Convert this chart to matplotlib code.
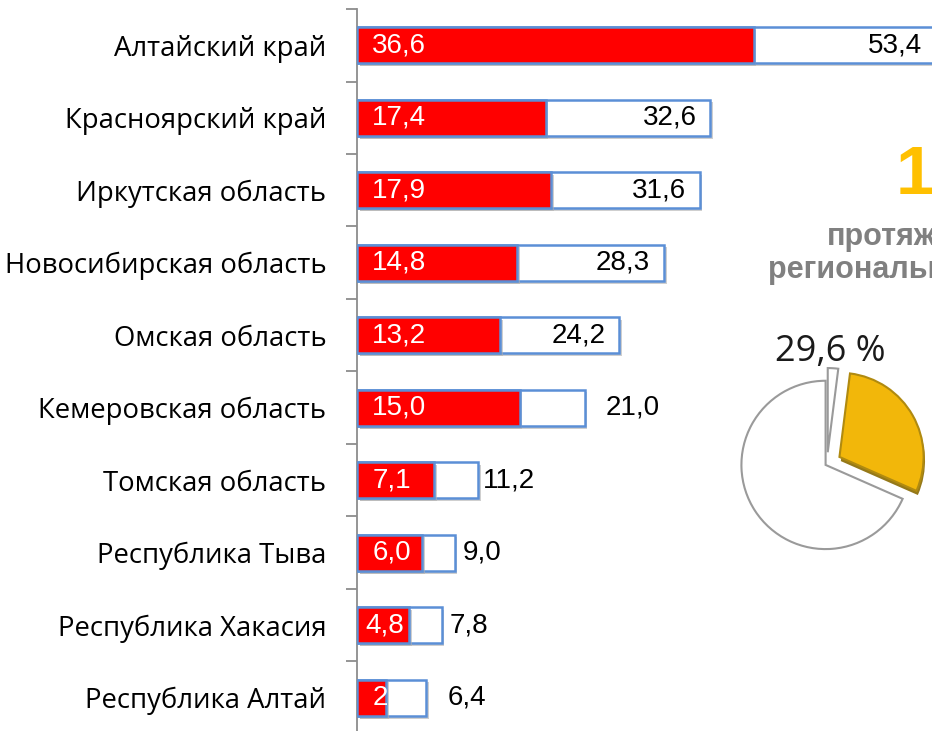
import matplotlib.pyplot as plt
import matplotlib.patheffects as pe

regions = ['Алтайский край', 'Красноярский край', 'Иркутская область',
           'Новосибирская область', 'Омская область', 'Кемеровская область',
           'Томская область', 'Республика Тыва', 'Республика Хакасия',
           'Республика Алтай']
part = [36.6, 17.4, 17.9, 14.8, 13.2, 15.0, 7.1, 6.0, 4.8, 2.7]
part_labels = ['36,6', '17,4', '17,9', '14,8', '13,2', '15,0', '7,1', '6,0', '4,8', '2']
total = [53.4, 32.6, 31.6, 28.3, 24.2, 21.0, 11.2, 9.0, 7.8, 6.4]
total_labels = ['53,4', '32,6', '31,6', '28,3', '24,2', '21,0', '11,2', '9,0', '7,8', '6,4']

pie_vals = [2.0, 29.6, 68.4]
pie_label = '29,6 %'

W, H = 932, 731
fig = plt.figure(figsize=(W / 100, H / 100), dpi=100)

def fx(x):
    return x / W

def fy(y):
    return 1 - y / H

blue = '#5B8FD6'
shadow = [pe.SimplePatchShadow(offset=(2, -2), shadow_rgbFace='#b0b0b0', alpha=0.6), pe.Normal()]

ax = fig.add_axes([fx(357), fy(734), 1 - fx(357), fy(9) - fy(734)])
y = list(range(len(regions)))
tb = ax.barh(y, total, height=0.5, color='white', edgecolor=blue, linewidth=1.8, zorder=2)
rb = ax.barh(y, part, height=0.5, color='#FF0000', edgecolor=blue, linewidth=1.8, zorder=3)
for b in list(tb) + list(rb):
    b.set_path_effects(shadow)

ax.set_xlim(0, 53.05)
ax.set_ylim(len(regions) - 0.5, -0.5)
ax.set_xticks([])
ax.set_yticks(y)
ax.set_yticklabels(regions, fontsize=19.8, family='Open Sans')
ax.tick_params(axis='y', which='major', length=0, pad=22)
ax.set_yticks([i - 0.5 for i in range(len(regions) + 1)], minor=True)
ax.tick_params(axis='y', which='minor', length=8, width=1.3, color='#8c8c8c')
for s in ['top', 'right', 'bottom']:
    ax.spines[s].set_visible(False)
ax.spines['left'].set_color('#8c8c8c')
ax.spines['left'].set_linewidth(1.3)

# label placement: inside (right aligned) or outside with an offset
outside_pad = [None, None, None, None, None, 15, 3, 6, 6, 15]
left_pad = [11, 11, 11, 11, 11, 11, 11, 11, 6, 11]
for i in y:
    ax.annotate(part_labels[i], (0, i), xytext=(left_pad[i], 0), textcoords='offset points',
                va='center', ha='left', color='white', fontsize=20, family='Liberation Sans',
                zorder=5, annotation_clip=False)
    if outside_pad[i] is None:
        ax.annotate(total_labels[i], (total[i], i), xytext=(-10, 0), textcoords='offset points',
                    va='center', ha='right', color='black', fontsize=20, family='Liberation Sans',
                    zorder=5, annotation_clip=False)
    else:
        ax.annotate(total_labels[i], (total[i], i), xytext=(outside_pad[i], 0), textcoords='offset points',
                    va='center', ha='left', color='black', fontsize=20, family='Liberation Sans',
                    zorder=5)

# pie on the right
pax = fig.add_axes([fx(726), fy(565), fx(202), fy(363) - fy(565)])
wedges, _ = pax.pie(pie_vals, colors=['white', '#F2B70A', 'white'], startangle=90,
                    counterclock=False, explode=[0.14, 0.17, 0.02],
                    wedgeprops=dict(edgecolor='#9a9a9a', linewidth=1.5))
wedges[1].set_edgecolor('#b08a10')
wedges[1].set_path_effects([pe.SimplePatchShadow(offset=(1, -3), shadow_rgbFace='#8a6a00', alpha=0.9), pe.Normal()])
pax.set_xlim(-1.2, 1.2)
pax.set_ylim(-1.2, 1.2)
pax.set_aspect('equal')
pax.axis('off')

fig.text(fx(775), fy(352), pie_label, fontsize=26, family='Open Sans', va='center', ha='left', color='#1a1a1a')
fig.text(fx(896), fy(176), '1', fontsize=50, fontweight='bold', family='Liberation Sans',
         color='#FFC000', va='center', ha='left')
fig.text(fx(827), fy(245), 'протяженность', fontsize=22, fontweight='bold', family='Liberation Sans',
         color='#808080', va='baseline', ha='left')
fig.text(fx(768), fy(278), 'региональных', fontsize=22, fontweight='bold', family='Liberation Sans',
         color='#808080', va='baseline', ha='left')

fig.savefig('out.png', dpi=100)
